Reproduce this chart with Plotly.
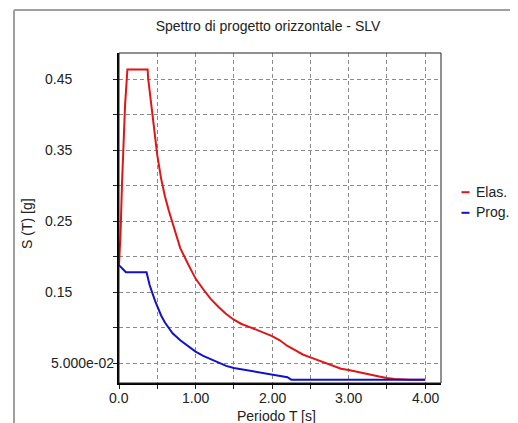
import plotly.graph_objects as go

# ---- data ----
T_elas = [0.0, 0.02, 0.04, 0.06, 0.08, 0.11, 0.374, 0.38, 0.45, 0.50, 0.55, 0.60, 0.65,
          0.70, 0.75, 0.80, 0.90, 1.00, 1.10, 1.20, 1.30, 1.40, 1.50, 1.60, 1.70, 1.80,
          1.90, 2.00, 2.10, 2.20, 2.30, 2.40, 2.50, 2.60, 2.70, 2.80, 2.90, 3.00, 3.20,
          3.40, 3.50, 3.60, 3.80, 4.00]
S_elas = [0.188, 0.232, 0.305, 0.365, 0.415, 0.464, 0.464, 0.452, 0.388, 0.343, 0.310,
          0.285, 0.265, 0.247, 0.228, 0.212, 0.190, 0.169, 0.154, 0.140, 0.129, 0.119,
          0.111, 0.105, 0.101, 0.097, 0.093, 0.088, 0.082, 0.074, 0.068, 0.062, 0.058,
          0.054, 0.050, 0.046, 0.042, 0.040, 0.035, 0.031, 0.029, 0.0275, 0.0265, 0.0265]

T_prog = [0.0, 0.09, 0.36, 0.40, 0.47, 0.55, 0.60, 0.70, 0.80, 0.90, 1.00, 1.10, 1.20,
          1.30, 1.40, 1.50, 1.60, 1.70, 1.80, 1.90, 2.00, 2.10, 2.20, 2.25, 4.00]
S_prog = [0.188, 0.178, 0.178, 0.160, 0.138, 0.117, 0.107, 0.092, 0.082, 0.074, 0.066,
          0.060, 0.055, 0.050, 0.046, 0.043, 0.041, 0.039, 0.037, 0.035, 0.034, 0.032,
          0.030, 0.0265, 0.0265]

series_names = ["Elas.", "Prog."]
x_tickvals = [0.0, 0.5, 1.0, 1.5, 2.0, 2.5, 3.0, 3.5, 4.0]
x_label_vals = [0.0, 1.0, 2.0, 3.0, 4.0]
x_label_text = ["0.0", "1.00", "2.00", "3.00", "4.00"]
y_tickvals = [0.05, 0.10, 0.15, 0.20, 0.25, 0.30, 0.35, 0.40, 0.45]
y_label_vals = [0.45, 0.35, 0.25, 0.15, 0.05]
y_label_text = ["0.45", "0.35", "0.25", "0.15", "5.000e-02"]

title_text = "Spettro di progetto orizzontale - SLV"
x_title = "Periodo T [s]"
y_title = "S (T) [g]"

RED = "#e01515"
BLUE = "#1212c8"
FONT = "Liberation Sans"
TXT = "#222222"

fig = go.Figure()
fig.add_trace(go.Scatter(x=T_elas, y=S_elas, mode="lines", name=series_names[0],
                         line=dict(color=RED, width=2), showlegend=False))
fig.add_trace(go.Scatter(x=T_prog, y=S_prog, mode="lines", name=series_names[1],
                         line=dict(color=BLUE, width=2), showlegend=False))

OFF = 8  # default page body margin
W, H = 518 - OFF, 423 - OFF
L, R, Tm, B = 119 - OFF, 77, 53 - OFF, 40
pw = W - L - R
ph = H - Tm - B


def px2x(px):
    return (px - OFF - L) / pw


def py2y(py):
    return (H - B - (py - OFF)) / ph


annotations = []
for v, t in zip(y_label_vals, y_label_text):
    annotations.append(dict(x=px2x(43 if len(t) < 6 else 49), xref="paper", y=v, yref="y",
                            text=t, showarrow=False, xanchor="left", yanchor="middle",
                            font=dict(family=FONT, size=14, color=TXT)))
for v, t in zip(x_label_vals, x_label_text):
    annotations.append(dict(x=v, xref="x", y=py2y(397.5), yref="paper",
                            text=t, showarrow=False, xanchor="center", yanchor="middle",
                            font=dict(family=FONT, size=14, color=TXT)))
annotations.append(dict(x=px2x(27), y=py2y(224), xref="paper", yref="paper", text=y_title,
                        textangle=-90, showarrow=False, xanchor="center", yanchor="middle",
                        font=dict(family=FONT, size=14, color=TXT)))
annotations.append(dict(x=px2x(276.5), y=py2y(416), xref="paper", yref="paper", text=x_title,
                        showarrow=False, xanchor="center", yanchor="middle",
                        font=dict(family=FONT, size=14, color=TXT)))
# legend
leg_y = [191.7, 212.3]
leg_col = [RED, BLUE]
shapes = []
for name, yy, c in zip(series_names, leg_y, leg_col):
    annotations.append(dict(x=px2x(473.5), y=py2y(yy), xref="paper", yref="paper", text=name,
                            showarrow=False, xanchor="left", yanchor="middle",
                            font=dict(family=FONT, size=14, color=TXT)))
    shapes.append(dict(type="line", xref="paper", yref="paper", x0=px2x(461.5), x1=px2x(469.5),
                       y0=py2y(yy + 0.5), y1=py2y(yy + 0.5), line=dict(color=c, width=2)))

# plot frame (thin) top/right
shapes.append(dict(type="rect", xref="paper", yref="paper", x0=0, x1=1, y0=0, y1=1,
                   line=dict(color="#222222", width=1), layer="above"))
# outer gray window frame
shapes.append(dict(type="line", xref="paper", yref="paper", x0=px2x(14), x1=px2x(530),
                   y0=py2y(10), y1=py2y(10), line=dict(color="#a0a0a0", width=2)))
shapes.append(dict(type="line", xref="paper", yref="paper", x0=px2x(14), x1=px2x(14),
                   y0=py2y(10), y1=py2y(440), line=dict(color="#a0a0a0", width=2)))

fig.update_layout(
    width=W, height=H,
    margin=dict(l=L, r=R, t=Tm, b=B),
    paper_bgcolor="white", plot_bgcolor="white",
    title=dict(text=title_text, x=(268 - OFF) / W, xanchor="center",
               y=1 - (26 - OFF) / H, yanchor="middle",
               font=dict(family=FONT, size=14, color=TXT)),
    annotations=annotations,
    shapes=shapes,
    showlegend=False,
)
fig.update_xaxes(range=[0, 4.206], tickvals=x_tickvals, showticklabels=False,
                 ticks="outside", ticklen=4, tickcolor="#222222",
                 showgrid=True, gridcolor="#8a8a8a", griddash="4px,3px", gridwidth=1,
                 zeroline=False, showline=True, linecolor="black", linewidth=2)
fig.update_yaxes(range=[0.0218, 0.4871], tickvals=y_tickvals, showticklabels=False,
                 ticks="outside", ticklen=4, tickcolor="#222222",
                 showgrid=True, gridcolor="#8a8a8a", griddash="4px,3px", gridwidth=1,
                 zeroline=False, showline=True, linecolor="black", linewidth=2)

fig.write_html("out.html")
